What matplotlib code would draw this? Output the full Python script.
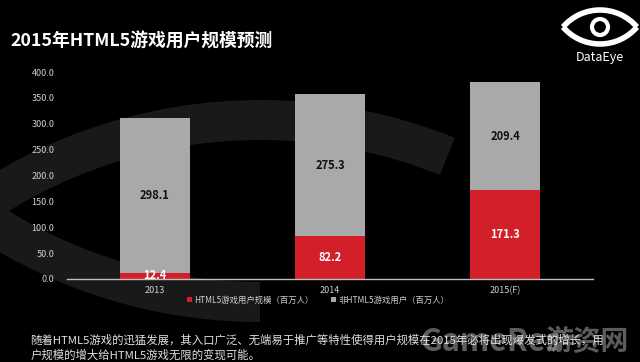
import matplotlib.pyplot as plt
from matplotlib.patches import Wedge, Arc, Circle

plt.rcParams['font.family'] = ['Noto Sans CJK SC', 'DejaVu Sans']

years = ['2013', '2014', '2015(F)']
html5 = [12.4, 82.2, 171.3]
non_html5 = [298.1, 275.3, 209.4]
yticks = [0, 50, 100, 150, 200, 250, 300, 350, 400]

red = '#d21f2a'
grey = '#a9a9a9'

fig = plt.figure(figsize=(6.4, 3.62), dpi=100, facecolor='black')

# fondo con el ojo gris oscuro
bg = fig.add_axes([0, 0, 1, 1])
bg.set_xlim(0, 640)
bg.set_ylim(0, 362)
bg.axis('off')
bg.set_facecolor('black')
bg.add_patch(Wedge((260, -258), 520, 68, 152, width=40, color='#191919', lw=0))
bg.add_patch(Wedge((260, 560), 520, 212, 270, width=40, color='#191919', lw=0))

ax = fig.add_axes([0.1047, 0.2293, 0.822, 0.5717])
ax.set_facecolor('none')
x = range(len(years))
b1 = ax.bar(x, html5, width=0.4, color=red, label='HTML5游戏用户规模（百万人）')
b2 = ax.bar(x, non_html5, width=0.4, bottom=html5, color=grey, label='非HTML5游戏用户（百万人）')

for i in x:
    ax.text(i, html5[i] / 2 if html5[i] > 30 else html5[i] / 2 + 1, f'{html5[i]:.1f}',
            ha='center', va='center', color='white', fontsize=8, fontweight='bold')
    ax.text(i, html5[i] + non_html5[i] / 2, f'{non_html5[i]:.1f}',
            ha='center', va='center', color='#111111', fontsize=8, fontweight='bold')

ax.set_xlim(-0.5, 2.5)
ax.set_ylim(0, 400)
ax.set_yticks(yticks)
ax.set_yticklabels([f'{v:.1f}' for v in yticks])
ax.set_xticks(list(x))
ax.set_xticklabels(years)
ax.tick_params(length=0, colors='#d0d0d0', labelsize=6.5)
ax.tick_params(axis='y', pad=9)
ax.tick_params(axis='x', pad=5)
for s in ['left', 'right', 'top']:
    ax.spines[s].set_visible(False)
ax.spines['bottom'].set_color('#bfbfbf')
ax.spines['bottom'].set_linewidth(1)

leg = fig.legend(handles=[b1, b2], loc='center', bbox_to_anchor=(0.497, 0.171), ncol=2,
                 frameon=False, fontsize=6, handlelength=0.6, handleheight=0.6,
                 handletextpad=0.3, columnspacing=2.0)
for t in leg.get_texts():
    t.set_color('#d0d0d0')

fig.text(0.016, 0.884, '2015年HTML5游戏用户规模预测', color='white', fontsize=12.8,
         fontweight='bold', va='center', ha='left')

fig.text(0.047, 0.061, '随着HTML5游戏的迅猛发展，其入口广泛、无端易于推广等特性使得用户规模在2015年必将出现爆发式的增长，用',
         color='#e0e0e0', fontsize=8.2, va='center', ha='left')
fig.text(0.047, 0.019, '户规模的增大给HTML5游戏无限的变现可能。',
         color='#e0e0e0', fontsize=8.2, va='center', ha='left')

# logo DataEye
bg.add_patch(Arc((600, 303.2), 97.6, 97.6, theta1=40.7, theta2=139.3, lw=4, color='white'))
bg.add_patch(Arc((600, 366.8), 97.6, 97.6, theta1=220.7, theta2=319.3, lw=4, color='white'))
bg.add_patch(Circle((600, 335), 8, fill=False, lw=3, color='white'))
bg.text(600, 362 - 58, 'DataEye', color='white', fontsize=9, ha='center', va='center')

# marca de agua
bg.text(420, 362 - 342, 'GameRes', color='#9a9a9a', alpha=0.6, fontsize=22,
        fontweight='bold', ha='left', va='center')
bg.text(545, 362 - 342, '游资网', color='#9a9a9a', alpha=0.6, fontsize=20,
        fontweight='bold', ha='left', va='center')

fig.savefig('out.png', dpi=100, facecolor='black')
